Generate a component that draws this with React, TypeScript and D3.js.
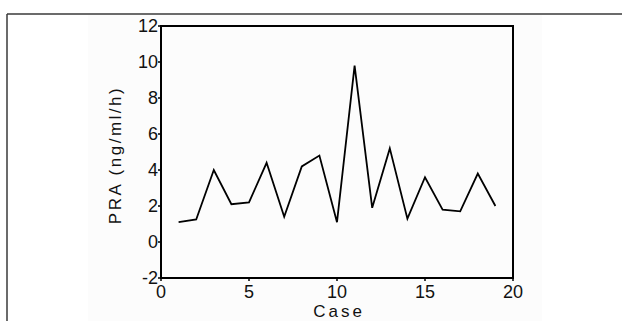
import React from "react";
import * as d3 from "d3";

// case number on x, plasma renin activity on y
const cases = [1, 2, 3, 4, 5, 6, 7, 8, 9, 10, 11, 12, 13, 14, 15, 16, 17, 18, 19];
const praValues = [1.1, 1.25, 4.0, 2.1, 2.2, 4.4, 1.4, 4.2, 4.8, 1.1, 9.8, 1.9, 5.2, 1.3, 3.6, 1.8, 1.7, 3.8, 2.0];
const xTicks = [0, 5, 10, 15, 20];
const yTicks = [-2, 0, 2, 4, 6, 8, 10, 12];

const W = 622;
const H = 321;
const plot = { left: 161, right: 513, top: 26, bottom: 278 };
const font = "'Liberation Sans', Arial, sans-serif";

export default function App() {
  const x = d3.scaleLinear().domain([0, 20]).range([plot.left, plot.right]);
  const y = d3.scaleLinear().domain([-2, 12]).range([plot.bottom, plot.top]);

  const line = d3
    .line<number>()
    .x((_, i) => x(cases[i]))
    .y((d) => y(d));

  return (
    <div style={{ position: "absolute", left: 0, top: 0 }}>
      <svg width={W} height={H} style={{ display: "block" }}>
        <rect x={0} y={0} width={W} height={H} fill="#ffffff" />
        <rect x={88} y={15} width={454} height={H - 15} fill="#fcfcfc" />
        {/* outer frame, only top + left visible */}
        <line x1={7} y1={14} x2={W} y2={14} stroke="#3a3a3a" strokeWidth={1.5} />
        <line x1={7} y1={14} x2={7} y2={H} stroke="#3a3a3a" strokeWidth={1.5} />

        {/* plot box */}
        <rect
          x={plot.left}
          y={plot.top}
          width={plot.right - plot.left}
          height={plot.bottom - plot.top}
          fill="none"
          stroke="#000"
          strokeWidth={2}
        />

        {yTicks.map((t) => (
          <g key={"y" + t}>
            <line x1={plot.left - 3} x2={plot.left} y1={y(t)} y2={y(t)} stroke="#000" strokeWidth={1.5} />
            <text
              x={plot.left - 3}
              y={y(t)}
              dy="0.36em"
              textAnchor="end"
              fontFamily={font}
              fontSize={18}
              fill="#111"
            >
              {t}
            </text>
          </g>
        ))}

        {xTicks.map((t) => (
          <g key={"x" + t}>
            <line x1={x(t)} x2={x(t)} y1={plot.bottom} y2={plot.bottom + 3} stroke="#000" strokeWidth={1.5} />
            <text
              x={x(t)}
              y={plot.bottom + 20}
              textAnchor="middle"
              fontFamily={font}
              fontSize={18}
              fill="#111"
            >
              {t}
            </text>
          </g>
        ))}

        <path d={line(praValues) ?? ""} fill="none" stroke="#000" strokeWidth={1.8} strokeLinejoin="miter" />

        <text
          x={(plot.left + plot.right) / 2 + 2}
          y={317}
          textAnchor="middle"
          fontFamily={font}
          fontSize={17}
          letterSpacing={3}
          fill="#111"
        >
          Case
        </text>
        <text
          transform={`translate(121, ${(plot.top + plot.bottom) / 2 + 3}) rotate(-90)`}
          textAnchor="middle"
          fontFamily={font}
          fontSize={17}
          letterSpacing={2.5}
          fill="#111"
        >
          PRA (ng/ml/h)
        </text>
      </svg>
    </div>
  );
}
